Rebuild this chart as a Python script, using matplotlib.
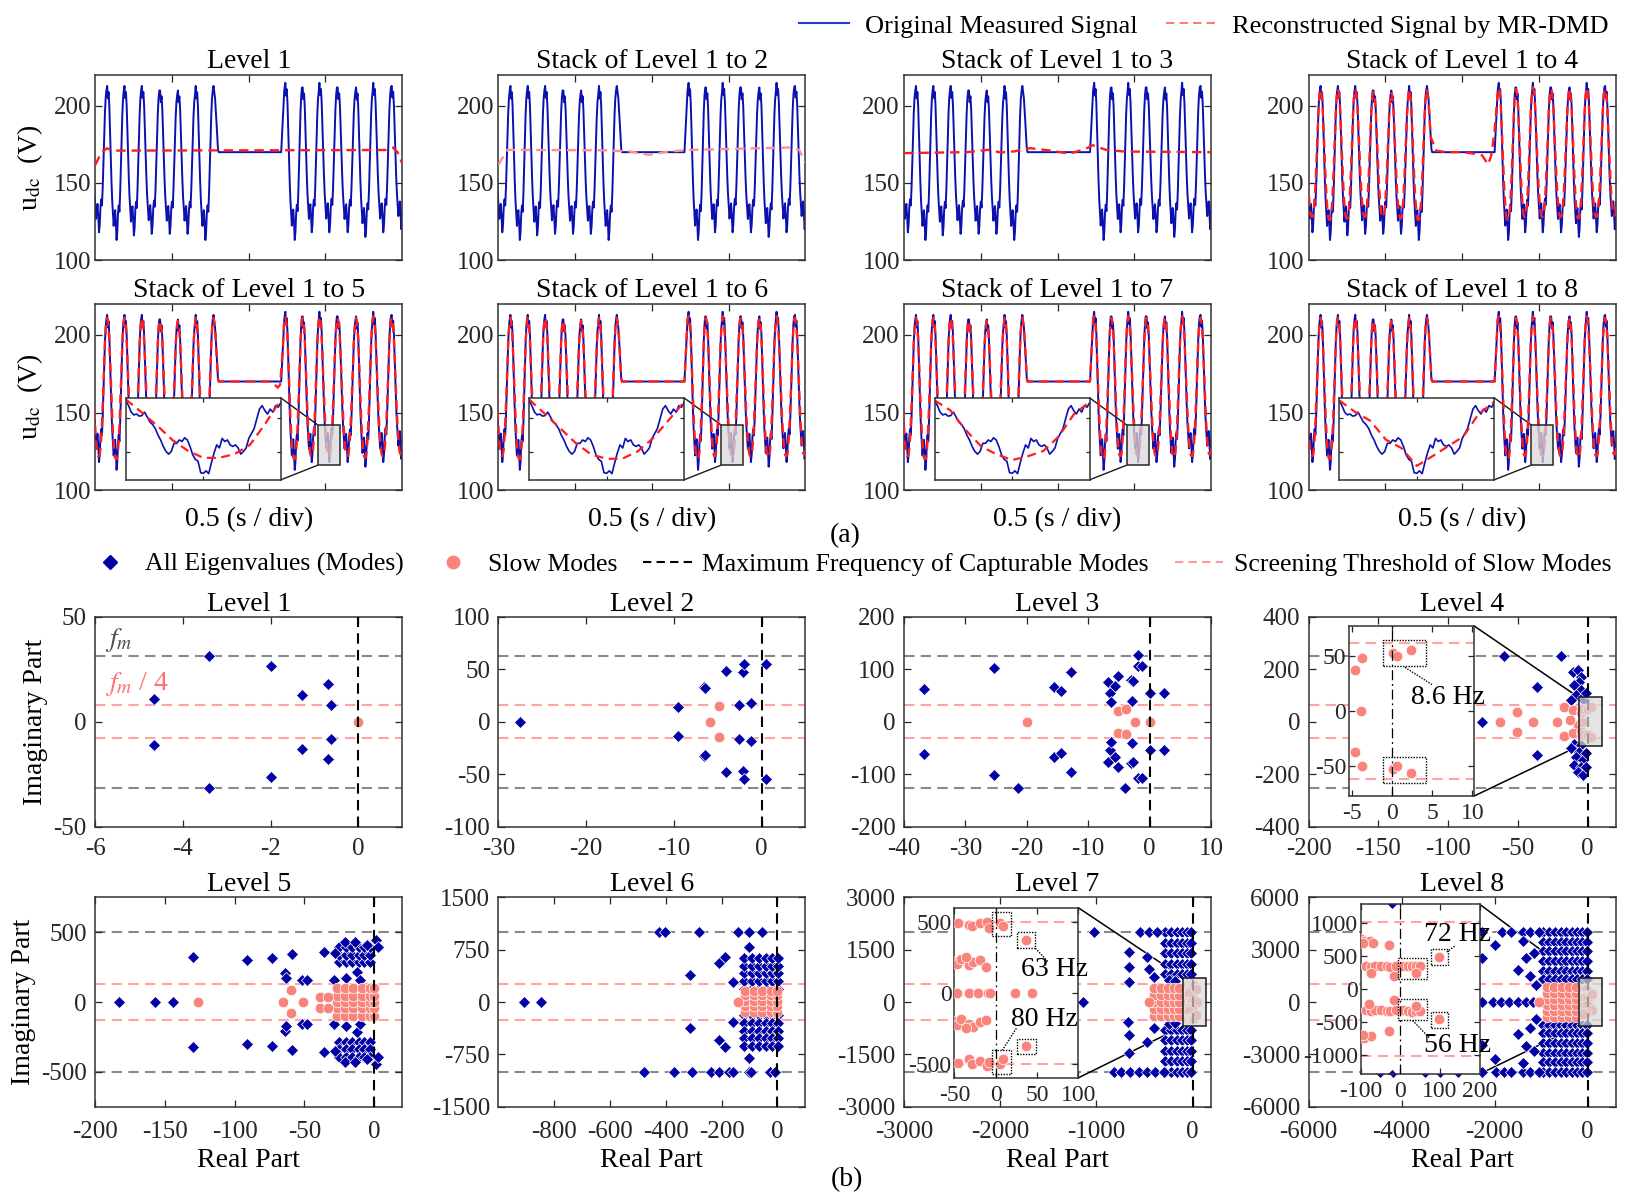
import numpy as np
import matplotlib
matplotlib.use('Agg')
import matplotlib.pyplot as plt
from matplotlib.lines import Line2D
from matplotlib.patches import Rectangle, ConnectionPatch

plt.rcParams['font.family'] = ['Liberation Serif', 'DejaVu Serif']
plt.rcParams['mathtext.fontset'] = 'stix'
plt.rcParams['axes.unicode_minus'] = False
plt.rcParams['xtick.direction'] = 'in'
plt.rcParams['ytick.direction'] = 'in'

BLUE_LINE = '#0b10b0'
RED = '#ff1e1e'
DIAMOND = '#0000a6'
SALMON = '#f8847c'
GRAY = '#8a8a8a'
PINK_LINE = '#ffa3a3'

# ---------------------------------------------------------------- (a) signals
ts_titles = ['Level 1', 'Stack of Level 1 to 2', 'Stack of Level 1 to 3',
             'Stack of Level 1 to 4', 'Stack of Level 1 to 5',
             'Stack of Level 1 to 6', 'Stack of Level 1 to 7',
             'Stack of Level 1 to 8']

# one measured ripple period (peak to peak) and a smooth reconstructed one
cycle_shape = [213, 205, 209, 200, 185, 168, 152, 140, 132, 124, 130, 134,
               126, 115, 120, 132, 137, 133, 145, 162, 180, 195, 205, 210]
smooth_shape = [211, 209, 204, 196, 185, 172, 159, 147, 137, 129, 123, 120,
                119, 119, 120, 124, 131, 141, 153, 167, 181, 194, 203, 209]

seg1_peak_t = [-0.038, 0.078, 0.191, 0.304, 0.423, 0.539, 0.655, 0.771]
seg1_peak_v = [213, 213, 213, 213, 210, 210, 213, 213]
seg1_trough_v = [118, 113, 116, 117, 117, 117, 113]
seg2_peak_t = [1.239, 1.352, 1.461, 1.580, 1.700, 1.812, 1.932, 2.048]
seg2_peak_v = [215, 212, 215, 212, 212, 215, 213, 213]
seg2_trough_v = [113, 118, 118, 118, 115, 118, 120]
gap_t = [0.781, 0.790, 0.800, 0.805, 1.212, 1.222, 1.232]
gap_v = [205, 190, 172, 170, 170, 190, 210]

rec_peak1_v = [211, 211, 211, 211, 209, 209, 211, 211]
rec_trough1_v = [122, 120, 121, 122, 122, 121, 120]
rec_peak2_v = [212, 211, 212, 211, 211, 212, 211, 211]
rec_trough2_v = [120, 122, 122, 122, 121, 122, 123]
rec4_trough1_v = [128, 126, 127, 128, 128, 127, 126]
rec4_trough2_v = [126, 128, 128, 128, 127, 128, 129]

rec1_t = [0, 0.044, 0.078, 0.11, 1.89, 1.94, 1.97, 2.0]
rec1_v = [161.7, 170.3, 172.5, 171, 171.4, 173, 170, 162.8]
rec2_t = [0, 0.058, 0.70, 0.85, 0.98, 1.10, 1.25, 1.90, 1.96, 2.0]
rec2_v = [162, 171.5, 171.2, 170.5, 168.3, 170.3, 171.5, 173, 171.5, 163]
rec3_t = [0, 0.41, 0.547, 0.63, 0.718, 0.82, 0.957, 1.077, 1.18, 1.23,
          1.316, 1.436, 2.0]
rec3_v = [169.4, 170, 171.5, 169.8, 170.5, 172.6, 171, 169, 172, 174.5,
          171.5, 170.4, 170]
rec4_gap_t = [0.781, 0.795, 0.83, 0.90, 1.00, 1.08, 1.13, 1.17, 1.19, 1.21, 1.232]
rec4_gap_v = [203, 180, 171, 170, 170, 169, 168, 162, 168, 182, 208]
rec5_gap_t = [0.781, 0.790, 0.800, 0.805, 1.150, 1.190, 1.205, 1.222, 1.232]
rec5_gap_v = [205, 190, 172, 170, 170, 166, 168, 190, 210]

# zoomed trough shown in the insets of levels 5-8
inset_meas = [141.6, 140.0, 137.9, 137.0, 137.3, 136.6, 136.8, 137.9, 136.3,
              134.7, 133.9, 132.6, 130.5, 128.9, 126.8, 125.2, 124.3, 125.2,
              127.8, 127.8, 128.9, 128.4, 129.6, 128.9, 126.8, 124.1, 122.6,
              122.0, 118.3, 118.1, 118.9, 118.0, 121.5, 124.7, 127.3, 126.3,
              129.4, 128.4, 128.9, 127.3, 126.8, 127.3, 126.3, 124.3, 125.2,
              126.3, 129.4, 131.0, 132.6, 135.8, 138.9, 140.0, 138.4, 137.3,
              138.9, 137.9, 140.0, 139.5, 141.0]
inset_rec5 = [142, 137.9, 133.6, 128.9, 125.4, 123.1, 123.1, 124.3, 127.3, 134.2, 142]
inset_rec6 = [142, 137.4, 132.7, 127.9, 124.2, 122.8, 122.8, 125.2, 129.5, 135.3, 141.2]
inset_rec7 = [141.7, 138.5, 132.1, 126.8, 124.2, 122.4, 123.6, 125.3, 130.0, 137.4, 141.2]
inset_rec8 = [141.7, 138.0, 135.1, 129.0, 126.3, 120.5, 123.6, 126.8, 130.0, 137.4, 141.2]


def build_wave(peak_t, peak_v, trough_v, shape):
    shape = np.asarray(shape, dtype=float)
    unit = (shape - shape.min()) / (shape.max() - shape.min())
    t_out, v_out = [], []
    for i in range(len(peak_t) - 1):
        t_out.extend(np.linspace(peak_t[i], peak_t[i + 1], len(shape), endpoint=False))
        v_out.extend(trough_v[i] + unit * (peak_v[i] - trough_v[i]))
    return list(t_out), list(v_out)


def stitch(shape, p1, tr1, p2, tr2, g_t, g_v):
    a_t, a_v = build_wave(seg1_peak_t, p1, tr1, shape)
    b_t, b_v = build_wave(seg2_peak_t, p2, tr2, shape)
    return (np.array(a_t + [seg1_peak_t[-1]] + g_t + b_t),
            np.array(a_v + [p1[-1]] + g_v + b_v))


meas_t, meas_v = stitch(cycle_shape, seg1_peak_v, seg1_trough_v,
                        seg2_peak_v, seg2_trough_v, gap_t, gap_v)
recon = [
    (rec1_t, rec1_v, RED),
    (rec2_t, rec2_v, '#ff9090'),
    (rec3_t, rec3_v, RED),
    stitch(smooth_shape, rec_peak1_v, rec4_trough1_v, rec_peak2_v,
           rec4_trough2_v, rec4_gap_t, rec4_gap_v) + (RED,),
    stitch(smooth_shape, rec_peak1_v, rec_trough1_v, rec_peak2_v,
           rec_trough2_v, rec5_gap_t, rec5_gap_v) + (RED,),
]
for _ in range(3):
    recon.append(stitch(smooth_shape, rec_peak1_v, rec_trough1_v, rec_peak2_v,
                        rec_trough2_v, gap_t, gap_v) + (RED,))
inset_recs = [inset_rec5, inset_rec6, inset_rec7, inset_rec8]

# ------------------------------------------------------------ (b) eigenvalues
fm_lines = [31.4, 62.8, 125.7, 251.3, 502.7, 1005.3, 2010.6, 4021.2]
thr_lines = [7.85, 15.7, 31.4, 62.8, 125.7, 251.3, 502.7, 1005.3]

L1_all_re = [-4.66, -4.66, -3.40, -3.40, -2.00, -2.00, -1.28, -1.28, -0.68, -0.68, -0.62, -0.62]
L1_all_im = [10.8, -11.1, 31.4, -31.4, 26.5, -26.5, 12.9, -13.0, 17.9, -17.9, 8.0, -8.4]
L1_slow_re = [0.0]
L1_slow_im = [0.0]

L2_all_re = [-27.5, -9.5, -9.5, -6.6, -6.4, -6.6, -6.4, -4.06, -4.06, -2.6, -2.6,
             -2.1, -2.1, -2.0, -2.0, -1.2, -1.2, 0.48, 0.48]
L2_all_im = [0, 14.3, -13.3, 33, 32, -33, -32, 48, -48, 16, -16, 47, -47, 55, -55,
             18, -18, 54.6, -54.6]
L2_slow_re = [-5.9, -4.9, -4.9]
L2_slow_im = [0, 15, -15]

L3_all_re = [-36.7, -36.7, -25.4, -25.4, -21.4, -15.5, -15.5, -14.5, -14.5, -12.8,
             -12.8, -6.8, -6.8, -6.4, -6.4, -6.3, -6.3, -5.7, -5.7, -5.1, -5.1,
             -3.1, -3.1, -2.7, -2.7, -2.9, -2.9, -1.9, -1.9, -1.3, -1.3, -1.9,
             -4.0, 0.0, 0.0, 2.3, 2.3]
L3_all_im = [62, -62, 101.6, -101.6, -125.7, 67, -67, 59, -59, 95, -95, 76, -76,
             54, -54, 38, -38, 68, -68, 87, -87, 79, -79, 77, -77, 40, -40, 107,
             -107, 107, -107, 127, -126, 54, -54, 54, -54]
L3_slow_re = [-20, -5.2, -5.2, -3.8, -3.8, -2.3, 0.0]
L3_slow_im = [0, 21, -21, 23.5, -24, 0, 0]

L4_all_re = [-75.4, -59.8, -19.1, -36.4, -36.4, -10.8, -7.2, -4.8, -6.0, -9.6,
             -4.8, -8.4, -3.6, -12.0, -2.4, -1.2, -9.6, -4.8, -12.0, -6.0, -8.4,
             -3.6, -9.6, -4.8, -7.2, -3.6, -1.2, -1.2]
L4_all_im = [0, 251, 251, 131, -127, 190, 197, 171, 152, 140, 120, 101, 95, 83,
             84, 108, -84, -89, -102, -114, -133, -146, -165, -171, -190, -203,
             -121, -171]
L4_slow_re = [-62.7, -51.0, -51.0, -39.5, -22.0, -16.7, -16.7, -10.8, -7.2, -10.8,
              -13.0, -4.6, -3.8, -3.9, -4.6, -3.8, 0.1, 0.6, 2.4, 0.1, 0.6, 2.4]
L4_slow_im = [0, 38, -38, 0, 0, 57, -55, 44, -13, -44, 6, 38, 49, 0, -38, -50,
              53, 50, 56, -53, -50, -57]

L5_all_re = [-183, -157, -144, -130, -130, -91, -91, -73, -73, -59, -59, -64, -64,
             -63, -63, -52, -52, -48, -48, -36, -36, -28, -28, -21, -21, -14, -14,
             -5, -5, 1.3, 1.3, 2.6, 2.6, -29, -29, -20, -20, -12, -12, -10, -10]
L5_all_im = [0, 0, 0, 319, -319, 302, -302, 314, -314, 343, -343, 207, -207, 171,
             -171, 160, -160, 160, -160, 357, -357, 350, -350, 433, -433, 432,
             -432, 408, -408, 444, -444, 396, -396, 158, -158, 170, -170, 217,
             -217, 158, -158]
L5_dense_re = [-25, -20, -16, -11, -7, -3]
L5_dense_im = [285, 340, 395, -285, -340, -395]
L5_slow_re = [-126, -65.6, -60, -60, -51, -39, -39, -33, -33]
L5_slow_im = [0, 0, 86, -81, 0, 38, -40, 38, -40]
L5_sdense_re = [-27, -21, -15, -9, -3, 0]
L5_sdense_im = [-100, -45, 0, 45, 100]

L6_all_re = [-910, -847, -424, -404, -282, -142, -102, -54, -480, -371, -308, -240,
             -211, -172, -161, -102, -95, -28, -10, -312, -312, -211, -188, -211,
             -188, -161, -161, -102, -102]
L6_all_im = [0, 0, 1005, 1005, 1005, 1005, 1005, 1005, -1005, -1005, -1005, -1005,
             -1005, -1005, -1005, -1005, -1005, -1005, -1005, 387, -377, 554, 650,
             -544, -640, 291, -282, 793, -807]
L6_dense_re = [-120, -92, -66, -42, -18, 2]
L6_dense_im = [190, 300, 410, 520, 630, -190, -300, -410, -520, -630]
L6_slow_re = [-142]
L6_slow_im = [0]
L6_sdense_re = [-115, -85, -55, -25, 0]
L6_sdense_im = [-140, -60, 20, 100, 160]

L7_all_re = [-1142, -1021, -545, -458, -371, -660, -660, -667, -476, -458, -406,
             -823, -743, -649, -562, -476, -389, -302, -674, -667, -660, -476, -406,
             -250, -180, -250, -180]
L7_all_im = [0, 1996, 2010, 2010, 2010, 1423, 1012, 583, 1300, 945, 726, -2010,
             -2010, -2010, -2010, -2010, -2010, -2010, -563, -945, -1471, -1136, -750,
             640, 600, -640, -600]
L7_dense_re = [-285, -225, -165, -110, -60, -15]
L7_dense_im = [2010, 1700, 1400, 1100, 800, -800, -1100, -1400, -1700, -2010]
L7_slow_re = [-458, -46, -32, -29, -19, -11, -8, 5, 9, -51, -47, -42, -32, -27,
              -19, -12, -36, -47, -32, -21, -9, -7, 23.5, 43.7, -51, -47, -42,
              -32, -27, -19, -12, -36, -46, -32, -29, -19, -11, -8, 5, 9, 36.4, 36.4]
L7_slow_im = [0, 495, 480, 470, 490, 500, 460, 495, 470, 220, 200, 240, 195, 215,
              230, 185, 250, 0, 0, 0, 0, 0, 0, 0, -200, -230, -185, -220, -240,
              -205, -190, -250, -495, -470, -500, -480, -520, -490, -500, -470,
              372, -372]
L7_sdense_re = [-400, -330, -260, -190, -140]
L7_sdense_im = [-400, -200, 0, 200, 400]

L8_all_re = [-2268, -2039, -1860, -1681, -1502, -1323, -1180, -1037, -2268, -2003,
             -2268, -2003, -1502, -1323, -1144, -1502, -1323, -1144, -2268, -1840,
             -1650, -1400, -1230, -1050, -2268, -1967, -1800, -1650, -1400, -1230,
             -1050, -4470, -4185, -3505, -3183, -2790, -1250, -1100, -1250, -1100,
             -1400, -1400]
L8_all_im = [0, 0, 0, 0, 0, 0, 0, 0, 2502, 3266, -2464, -3266, 1834, 2502, 2789,
             -1834, -2502, -2789, 4020, 4020, 4020, 4020, 4020, 4020, -4020, -4020,
             -4020, -4020, -4020, -4020, -4020, -4020, -4020, -4020, -4020, -4020,
             1500, 1000, -1500, -1000, 3500, -3500]
L8_dense_re = [-960, -830, -700, -580, -460, -340, -230, -120, -20]
L8_dense_im = [4020, 3450, 2900, 2350, 1800, 1300, -1300, -1800, -2350, -2900,
               -3450, -4020]
L8_slow_re = [-1037, -99, -91, -78, -70, -95, -28, -87, -74, -63, -49, -34, -26,
              -11, 6, 18, 29, 39, 50, -74, 39, -17, 98, -87, -74, -63, -49, -34,
              -26, -11, 6, 18, 29, 39, 50, -80, 39, -17, 98, -99, -91, -74, -29, -95]
L8_slow_im = [0, 749, 723, 723, 698, 700, 663, 347, 340, 347, 350, 345, 340, 347,
              350, 345, 347, 350, 345, 246, 246, 196, 487, -322, -330, -322, -320,
              -325, -330, -322, -320, -335, -340, -330, -325, -230, -250, -171,
              -457, -708, -735, -708, -633, -690]
L8_sdense_re = [-880, -720, -560, -400, -250]
L8_sdense_im = [-850, -500, -180, 180, 500, 850]

eig_levels = [
    dict(all=(L1_all_re, L1_all_im), slow=(L1_slow_re, L1_slow_im),
         xlim=(-6, 1), ylim=(-50, 50), xt=[-6, -4, -2, 0], yt=[-50, 0, 50]),
    dict(all=(L2_all_re, L2_all_im), slow=(L2_slow_re, L2_slow_im),
         xlim=(-30, 5), ylim=(-100, 100), xt=[-30, -20, -10, 0],
         yt=[-100, -50, 0, 50, 100]),
    dict(all=(L3_all_re, L3_all_im), slow=(L3_slow_re, L3_slow_im),
         xlim=(-40, 10), ylim=(-200, 200), xt=[-40, -30, -20, -10, 0, 10],
         yt=[-200, -100, 0, 100, 200]),
    dict(all=(L4_all_re, L4_all_im), slow=(L4_slow_re, L4_slow_im),
         xlim=(-200, 20), ylim=(-400, 400), xt=[-200, -150, -100, -50, 0],
         yt=[-400, -200, 0, 200, 400]),
    dict(all=(L5_all_re, L5_all_im), slow=(L5_slow_re, L5_slow_im),
         dense=(L5_dense_re, L5_dense_im), sdense=(L5_sdense_re, L5_sdense_im),
         xlim=(-200, 20), ylim=(-750, 750), xt=[-200, -150, -100, -50, 0],
         yt=[-500, 0, 500]),
    dict(all=(L6_all_re, L6_all_im), slow=(L6_slow_re, L6_slow_im),
         dense=(L6_dense_re, L6_dense_im), sdense=(L6_sdense_re, L6_sdense_im),
         xlim=(-1000, 100), ylim=(-1500, 1500), xt=[-800, -600, -400, -200, 0],
         yt=[-1500, -750, 0, 750, 1500]),
    dict(all=(L7_all_re, L7_all_im), slow=(L7_slow_re, L7_slow_im),
         dense=(L7_dense_re, L7_dense_im), sdense=(L7_sdense_re, L7_sdense_im),
         xlim=(-3000, 190), ylim=(-3000, 3000), xt=[-3000, -2000, -1000, 0],
         yt=[-3000, -1500, 0, 1500, 3000]),
    dict(all=(L8_all_re, L8_all_im), slow=(L8_slow_re, L8_slow_im),
         dense=(L8_dense_re, L8_dense_im), sdense=(L8_sdense_re, L8_sdense_im),
         xlim=(-6000, 600), ylim=(-6000, 6000), xt=[-6000, -4000, -2000, 0],
         yt=[-6000, -3000, 0, 3000, 6000]),
]

# zoom windows of the eigenvalue insets: level index -> settings
eig_insets = {
    3: dict(pos=[0.131, 0.146, 0.408, 0.81], xlim=(-5.4, 10.2), ylim=(-78, 78),
            xt=[-5, 0, 5, 10], yt=[-50, 0, 50], box=(-6.5, -93, 16.8, 186),
            dots=[(-1.2, 41, 5.4, 24), (-1.2, -66, 5.4, 24)],
            notes=[('8.6 Hz', (2.3, 12), (1.6, 40), (5.0, 24))]),
    6: dict(pos=[0.164, 0.138, 0.404, 0.812], xlim=(-50, 100), ylim=(-600, 600),
            xt=[-50, 0, 50, 100], yt=[-500, 0, 500], box=(-97, -690, 240, 1380),
            dots=[(-4, 398, 22, 172), (26, 314, 22, 116), (26, -430, 22.6, 107),
                  (-4, -575, 22, 170)],
            notes=[('63 Hz', (31, 165), (48, 314), (64, 215)),
                   ('80 Hz', (19, -190), (25, -250), (8, -405))]),
    7: dict(pos=[0.170, 0.156, 0.387, 0.811], xlim=(-100, 200), ylim=(-1280, 1280),
            xt=[-100, 0, 100, 200], yt=[-1000, -500, 0, 500, 1000],
            box=(-193, -1365, 502, 2730),
            dots=[(77, 362, 42, 246), (-7, 156, 73, 316), (77, -583, 42, 241),
                  (-7, -472, 73, 321)],
            notes=[('72 Hz', (60, 824), (117, 560), (140, 660)),
                   ('56 Hz', (60, -844), (31, -472), (73, -734))]),
}

# ---------------------------------------------------------------- figure
fig = plt.figure(figsize=(16.44, 11.94), dpi=100)
col_left = [0.0579, 0.3032, 0.5499, 0.7960]
col_w = 0.1867
ts_rows = [(0.7822, 0.1549), (0.5896, 0.1558)]
eig_rows = [(0.3076, 0.1759), (0.0731, 0.1754)]
TICK = 18
TITLE = 20
LEG = 19


def style(ax, size=TICK, length=5, xpad=4, ypad=4):
    ax.tick_params(which='both', direction='in', top=True, right=True,
                   labelsize=size, length=length, width=0.9, colors='0.15')
    ax.tick_params(axis='x', pad=xpad)
    ax.tick_params(axis='y', pad=ypad)
    for s in ax.spines.values():
        s.set_color('0.2')
        s.set_linewidth(1.1)


for k in range(8):
    r, c = divmod(k, 4)
    b, h = ts_rows[r]
    ax = fig.add_axes([col_left[c], b, col_w, h])
    ax.plot(meas_t, meas_v, color=BLUE_LINE, lw=1.4, zorder=2)
    rt, rv, rc = recon[k]
    ax.plot(rt, rv, color=rc, lw=1.7, ls=(0, (4, 2.5)), zorder=3)
    ax.set_xlim(0, 2)
    ax.set_ylim(100, 220)
    ax.set_xticks([0.5, 1.0, 1.5])
    ax.set_xticklabels([])
    ax.set_yticks([100, 150, 200])
    style(ax, ypad=3)
    ax.set_title(ts_titles[k], fontsize=TITLE, pad=5)
    if c == 0:
        ax.set_ylabel(r'u$_{\mathrm{dc}}$  (V)', fontsize=TITLE, labelpad=6)
    if r == 1:
        ax.set_xlabel('0.5 (s / div)', fontsize=TITLE, labelpad=8)
        bx0, by0, bw, bh = 1.45, 116, 0.145, 26
        ax.add_patch(Rectangle((bx0, by0), bw, bh, facecolor=(0.85, 0.85, 0.85, 0.75),
                               edgecolor='0.15', lw=1.1, zorder=4))
        ins = ax.inset_axes([0.1, 0.055, 0.505, 0.44])
        ins.plot(np.linspace(0, 1, len(inset_meas)), inset_meas, color=BLUE_LINE, lw=1.2)
        red = inset_recs[c]
        ins.plot(np.linspace(0, 1, len(red)), red, color=RED, lw=1.6, ls=(0, (4, 2.5)))
        ins.set_xlim(0, 1)
        ins.set_ylim(116, 142.5)
        ins.set_xticks([0.5])
        ins.set_yticks([125, 136])
        ins.set_xticklabels([])
        ins.set_yticklabels([])
        style(ins, length=3)
        for ya, yb in ((1, by0 + bh), (0, by0)):
            con = ConnectionPatch(xyA=(1, ya), coordsA=ins.transAxes,
                                  xyB=(bx0, yb), coordsB=ax.transData,
                                  color='0.1', lw=1.0)
            ax.add_artist(con)


def draw_modes(ax, lv, fm, thr):
    ax.axhline(fm, color=GRAY, ls=(0, (5, 3)), lw=1.5, zorder=1)
    ax.axhline(-fm, color=GRAY, ls=(0, (5, 3)), lw=1.5, zorder=1)
    ax.axhline(thr, color=PINK_LINE, ls=(0, (5, 3)), lw=1.5, zorder=1)
    ax.axhline(-thr, color=PINK_LINE, ls=(0, (5, 3)), lw=1.5, zorder=1)
    dia = dict(ls='none', marker='D', ms=5.8, mfc=DIAMOND, mec='white', mew=0.5, zorder=2)
    circ = dict(ls='none', marker='o', ms=7.6, mfc=SALMON, mec='white', mew=0.5, zorder=3)
    if 'dense' in lv:
        gx, gy = np.meshgrid(*lv['dense'])
        ax.plot(gx.ravel(), gy.ravel(), **dia)
    ax.plot(*lv['all'], **dia)
    if 'sdense' in lv:
        gx, gy = np.meshgrid(*lv['sdense'])
        ax.plot(gx.ravel(), gy.ravel(), **circ)
    ax.plot(*lv['slow'], **circ)


for k, lv in enumerate(eig_levels):
    r, c = divmod(k, 4)
    b, h = eig_rows[r]
    ax = fig.add_axes([col_left[c], b, col_w, h])
    draw_modes(ax, lv, fm_lines[k], thr_lines[k])
    ax.axvline(0, color='k', ls=(0, (5, 3)), lw=1.5, zorder=4)
    ax.set_xlim(*lv['xlim'])
    ax.set_ylim(*lv['ylim'])
    ax.set_xticks(lv['xt'])
    ax.set_yticks(lv['yt'])
    style(ax, xpad=8 if r == 0 else 10, ypad=6)
    ax.set_title('Level %d' % (k + 1), fontsize=TITLE, pad=4)
    if c == 0:
        ax.set_ylabel('Imaginary Part', fontsize=TITLE, labelpad=4)
    if r == 1:
        ax.set_xlabel('Real Part', fontsize=TITLE, labelpad=4)
    if k == 0:
        ax.text(-5.78, 39, r'$f_m$', fontsize=20, color='0.3', va='center')
        ax.text(-5.78, 18, r'$f_m$ / 4', fontsize=20, color='#ff7070', va='center')
    if k in eig_insets:
        cfg = eig_insets[k]
        bx0, by0, bw, bh = cfg['box']
        ax.add_patch(Rectangle((bx0, by0), bw, bh, facecolor=(0.85, 0.85, 0.85, 0.7),
                               edgecolor='0.1', lw=1.1, zorder=5))
        ins = ax.inset_axes(cfg['pos'])
        ins.set_facecolor('white')
        draw_modes(ins, lv, fm_lines[k], thr_lines[k])
        ins.axvline(0, color='k', ls=(0, (8, 3, 1.5, 3)), lw=0.9, zorder=4)
        ins.set_xlim(*cfg['xlim'])
        ins.set_ylim(*cfg['ylim'])
        ins.set_xticks(cfg['xt'])
        ins.set_yticks(cfg['yt'])
        style(ins, size=17, length=4, xpad=5, ypad=2)
        for rx, ry, rw, rh in cfg['dots']:
            ins.add_patch(Rectangle((rx, ry), rw, rh, fill=False, edgecolor='k',
                                    ls=(0, (1, 1)), lw=1.0, zorder=6))
        for label, txy, p0, p1 in cfg['notes']:
            ins.plot([p0[0], p1[0]], [p0[1], p1[1]], color='k', ls=(0, (1, 1)),
                     lw=1.0, zorder=6)
            ins.text(txy[0], txy[1], label, fontsize=TITLE, va='center', ha='left',
                     zorder=7)
        for ya, yb in ((1, by0 + bh), (0, by0)):
            con = ConnectionPatch(xyA=(1, ya), coordsA=ins.transAxes,
                                  xyB=(bx0, yb), coordsB=ax.transData,
                                  color='k', lw=1.1)
            ax.add_artist(con)

# legends
h1 = [Line2D([], [], color='#1a3fd0', lw=1.5),
      Line2D([], [], color='#ff7a7a', lw=1.5, ls=(0, (4, 2.5)))]
fig.legend(h1, ['Original Measured Signal', 'Reconstructed Signal by MR-DMD'],
           loc='upper right', bbox_to_anchor=(0.993, 1.008), ncol=2,
           frameon=False, fontsize=LEG, handlelength=1.9, handletextpad=0.6,
           columnspacing=1.1)
h2 = [Line2D([], [], ls='none', marker='D', ms=7, color=DIAMOND),
      Line2D([], [], ls='none', marker='o', ms=9, color=SALMON),
      Line2D([], [], color='k', lw=1.5, ls=(0, (4, 2.5))),
      Line2D([], [], color='#ff9a9a', lw=1.5, ls=(0, (4, 2.5)))]
fig.legend(h2, ['All Eigenvalues (Modes)', 'Slow Modes',
                'Maximum Frequency of Capturable Modes',
                'Screening Threshold of Slow Modes'],
           loc='center', bbox_to_anchor=(0.516, 0.527), ncol=4, frameon=False,
           fontsize=18.5, handlelength=1.9, columnspacing=1.0, handletextpad=0.4)

fig.text(0.514, 0.551, '(a)', fontsize=TITLE, ha='center', va='center')
fig.text(0.515, 0.012, '(b)', fontsize=TITLE, ha='center', va='center')

fig.savefig('out.png', dpi=100)
